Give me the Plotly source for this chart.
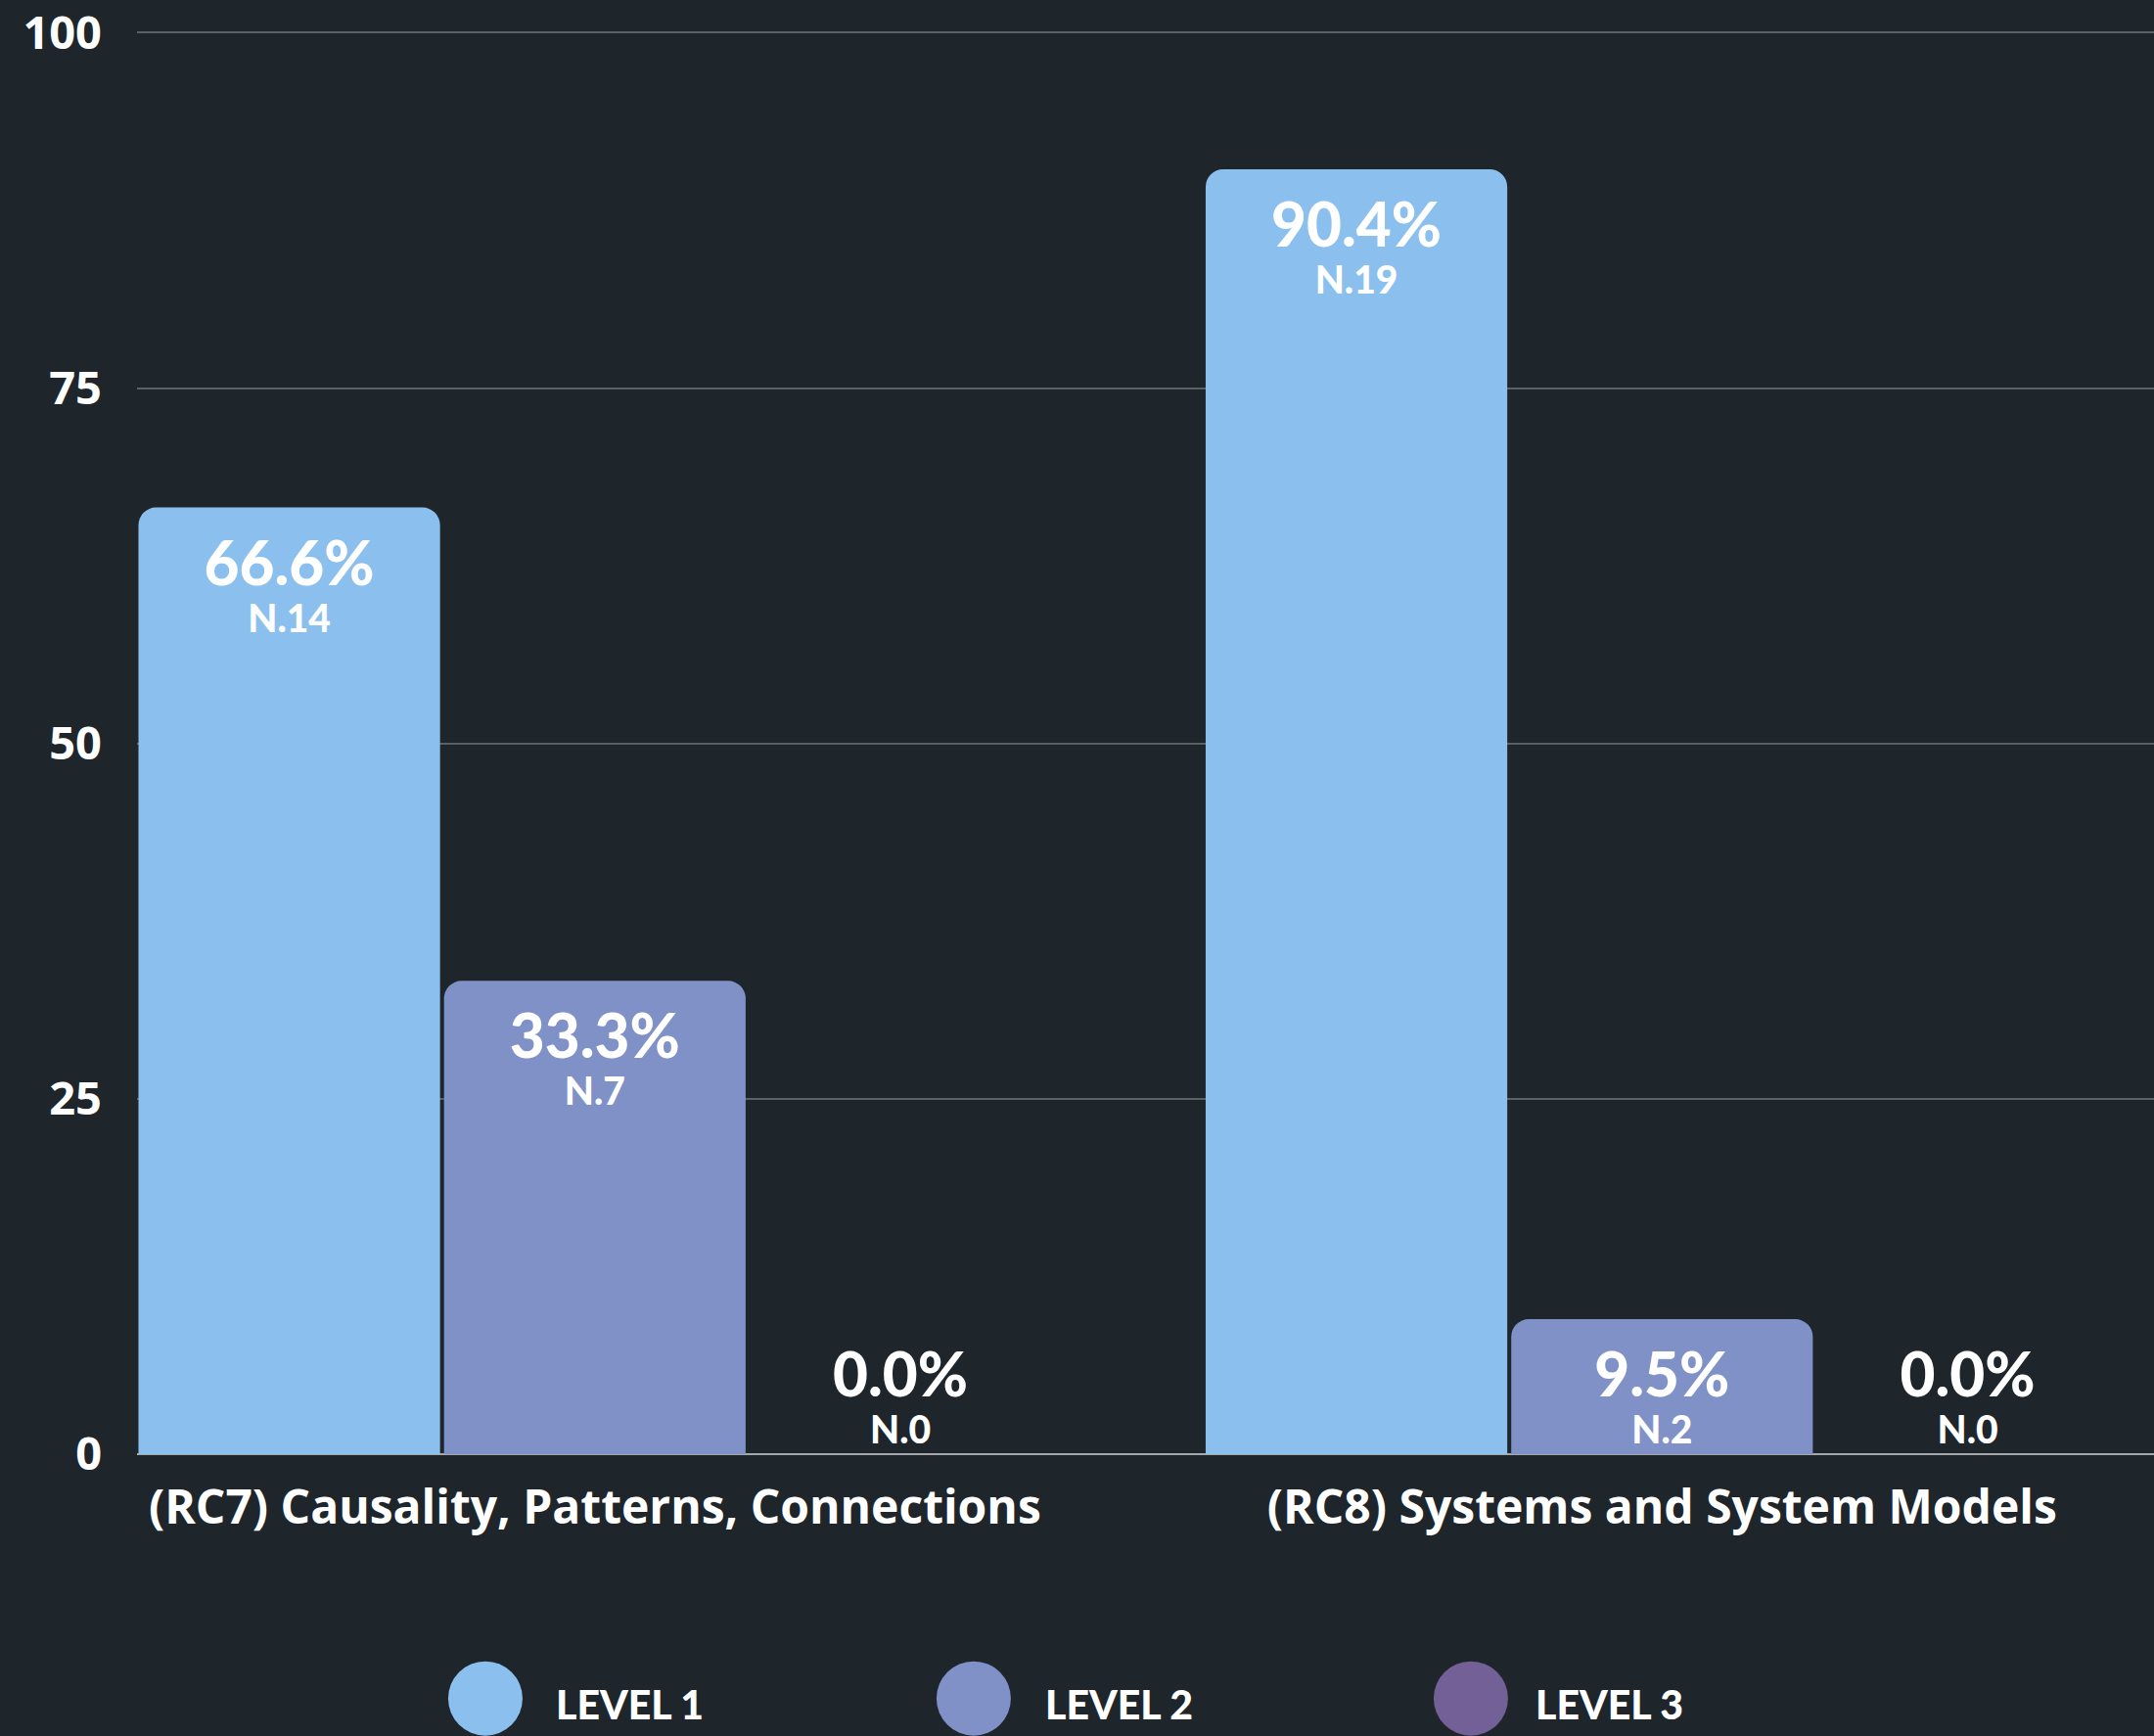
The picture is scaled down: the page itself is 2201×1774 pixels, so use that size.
import plotly.graph_objects as go

# chart data
categories = ["(RC7) Causality, Patterns, Connections", "(RC8) Systems and System Models"]
levels = ["LEVEL 1", "LEVEL 2", "LEVEL 3"]
level1_pct = [66.6, 90.4]
level2_pct = [33.3, 9.5]
level3_pct = [0.0, 0.0]
level1_n = [14, 19]
level2_n = [7, 2]
level3_n = [0, 0]
y_ticks = [0, 25, 50, 75, 100]

colors = ["#8BC0EE", "#7F91C6", "#736096"]
bg = "#1E252B"

series = [
    (levels[0], level1_pct, level1_n, colors[0]),
    (levels[1], level2_pct, level2_n, colors[1]),
    (levels[2], level3_pct, level3_n, colors[2]),
]

# big percentage on top, smaller count below (base font sets the line spacing)
label_tpl = ("<span style='font-size:62px;font-weight:900'>%{y:.1f}%</span>"
             "<br><span style='font-size:39px;font-weight:900'>N.%{customdata}</span>")

fig = go.Figure()

for name, pct, n, col in series:
    # zero bars get their label drawn above the baseline
    positions = ["outside" if v == 0 else "inside" for v in pct]
    lbl_font = dict(family="Lato", size=37, color="white")
    fig.add_trace(go.Bar(
        name=name,
        x=categories,
        y=pct,
        customdata=n,
        marker=dict(color=col, cornerradius=18, line=dict(width=0)),
        texttemplate=label_tpl,
        textposition=positions,
        insidetextanchor="end",
        textangle=0,
        constraintext="none",
        cliponaxis=False,
        textfont=lbl_font,
        insidetextfont=lbl_font,
        outsidetextfont=lbl_font,
        showlegend=False,
        hovertemplate="%{x}<br>%{y:.1f}%<extra>" + name + "</extra>",
    ))

fig.update_layout(
    width=2201,
    height=1774,
    paper_bgcolor=bg,
    plot_bgcolor=bg,
    margin=dict(l=140, r=0, t=30, b=288),
    barmode="group",
    bargap=0.141,
    bargroupgap=0.013,
    font=dict(family="Open Sans", color="white"),
)

fig.update_xaxes(
    type="category",
    range=[-0.429, 1.461],
    showgrid=False,
    showline=False,
    zeroline=False,
    ticks="",
    tickfont=dict(family="Open Sans", size=48, color="white", weight="bold"),
    ticklabelstandoff=22,
)

fig.update_yaxes(
    range=[0, 100.1],
    tickvals=y_ticks,
    showgrid=True,
    gridcolor="#5A6064",
    gridwidth=1.5,
    zeroline=True,
    zerolinecolor="#A4A8AC",
    zerolinewidth=2,
    showline=False,
    ticks="",
    ticklabeloverflow="allow",
    tickfont=dict(family="Open Sans", size=47, color="white", weight="bold"),
    ticklabelstandoff=35,
)

# custom legend with large round markers
legend_x = [0.1727, 0.4148, 0.6613]
text_x = [0.2066, 0.4492, 0.6923]
for i, name in enumerate(levels):
    fig.add_shape(
        type="circle",
        xref="paper", yref="paper",
        xsizemode="pixel", ysizemode="pixel",
        xanchor=legend_x[i], yanchor=-0.1717,
        x0=-38, x1=38, y0=-38, y1=38,
        fillcolor=colors[i],
        line=dict(width=0),
    )
    fig.add_annotation(
        xref="paper", yref="paper",
        x=text_x[i], y=-0.1758,
        xanchor="left", yanchor="middle",
        text="<span style='font-weight:900'>" + name + "</span>",
        showarrow=False,
        font=dict(family="Lato", size=41, color="white"),
    )

# remove the page margin so the chart fills the window
fig.write_html(
    "out.html",
    config={"displayModeBar": False},
    post_script="document.body.style.margin='0';document.body.style.background='#1E252B';",
)
